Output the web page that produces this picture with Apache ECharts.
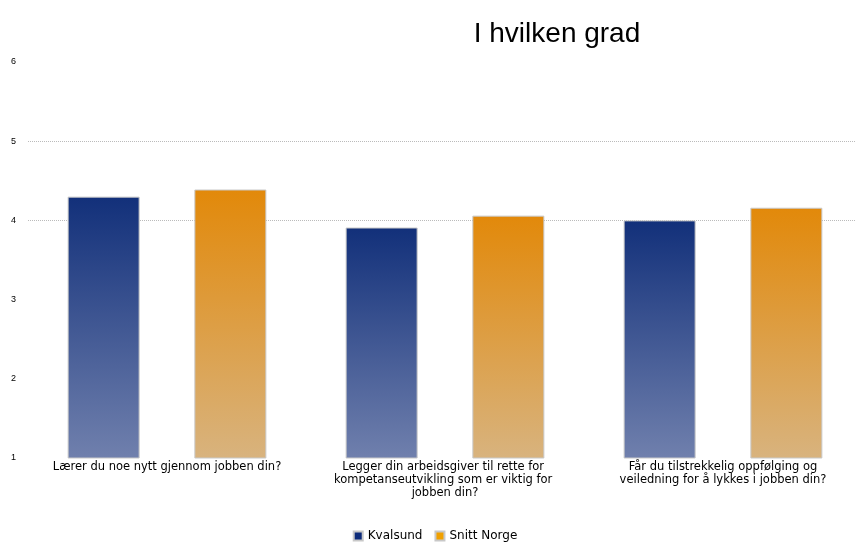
<!DOCTYPE html>
<html><head><meta charset="utf-8">
<script src="https://cdn.jsdelivr.net/npm/echarts@6/dist/echarts.min.js"></script>
<style>html,body{margin:0;padding:0;background:#fff;overflow:hidden;width:856px;height:547px}#c{width:870px;height:547px}</style>
</head><body><div id="c"></div>
<script>
var title = 'I hvilken grad';
var categories = [
  'Lærer du noe nytt gjennom jobben din?',
  'Legger din arbeidsgiver til rette for kompetanseutvikling som er viktig for jobben din?',
  'Får du tilstrekkelig oppfølging og\nveiledning for å lykkes i jobben din?'
];
var seriesNames = ['Kvalsund', 'Snitt Norge'];
var kommuneValues = [4.30, 3.91, 4.00];
var norgeValues = [4.39, 4.06, 4.16];
var yTicks = [1, 2, 3, 4, 5, 6];

var chart = echarts.init(document.getElementById('c'));
function grad(top, bottom) {
  return new echarts.graphic.LinearGradient(0, 0, 0, 1, [{offset: 0, color: top}, {offset: 1, color: bottom}]);
}
chart.setOption({
  animation: false,
  title: {text: title, left: 552, textAlign: 'center', top: 15,
    textStyle: {fontFamily: 'Liberation Sans Narrow, Liberation Sans, Arial', fontWeight: 'normal', fontSize: 28, color: '#000'}},
  legend: {bottom: 0, left: 'center', itemWidth: 9, itemHeight: 9, itemGap: 12, icon: 'rect',
    textStyle: {fontSize: 12, color: '#000', fontFamily: 'DejaVu Sans'},
    data: [{name: seriesNames[0], itemStyle: {color: '#0d2b7a'}}, {name: seriesNames[1], itemStyle: {color: '#f0a000'}}]},
  grid: {left: 28, width: 834, top: 62, bottom: 89, containLabel: false},
  xAxis: {type: 'category', data: categories,
    axisLine: {show: false}, axisTick: {show: false},
    axisLabel: {interval: 0, width: 245, overflow: 'break', fontSize: 11.5, color: '#000', margin: 3, lineHeight: 13,
      fontFamily: 'DejaVu Sans'}},
  yAxis: {type: 'value', min: 1, max: 6, interval: 1,
    axisLine: {show: false}, axisTick: {show: false},
    axisLabel: {fontSize: 9, color: '#000', margin: 12, fontFamily: 'Liberation Sans, Arial',
      formatter: function (v) { return yTicks.indexOf(v) >= 0 ? String(v) : ''; }},
    splitLine: {show: true, lineStyle: {type: 'dotted', width: 1,
      color: ['rgba(0,0,0,0)', 'rgba(0,0,0,0)', 'rgba(0,0,0,0)', '#bbb', '#bbb', 'rgba(0,0,0,0)']}}},
  series: [
    {name: seriesNames[0], type: 'bar', data: kommuneValues, barWidth: 72, barGap: '76%',
      itemStyle: {color: grad('#12307a', '#7080ad'), borderColor: '#c8c8c8', borderWidth: 1}},
    {name: seriesNames[1], type: 'bar', data: norgeValues, barWidth: 72,
      itemStyle: {color: grad('#e2890a', '#d8b37e'), borderColor: '#c8c8c8', borderWidth: 1}}
  ]
});
</script></body></html>
